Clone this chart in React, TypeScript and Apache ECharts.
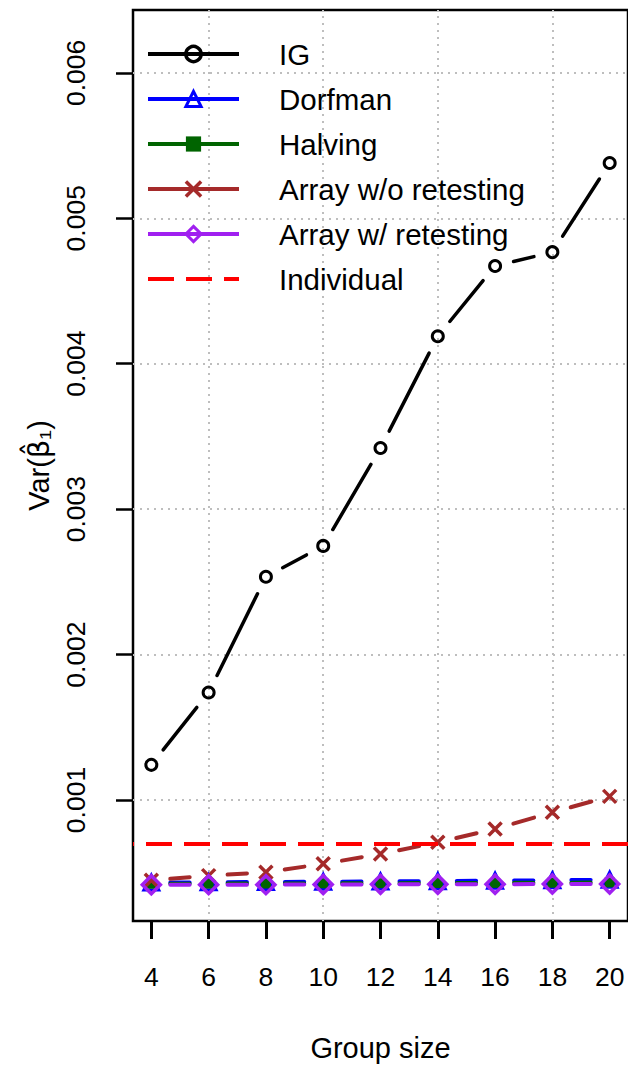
import React, { useEffect, useRef } from "react";
import * as echarts from "echarts";

const groupSizes = [4, 6, 8, 10, 12, 14, 16, 18, 20];
const igValues = [0.001242, 0.001739, 0.002535, 0.002747, 0.00342, 0.004189, 0.004672, 0.004767, 0.00538];
const dorfmanValues = [0.000432, 0.000434, 0.000436, 0.000438, 0.00044, 0.000442, 0.000445, 0.000448, 0.000452];
const halvingValues = [0.000424, 0.000425, 0.000426, 0.000427, 0.000428, 0.000429, 0.00043, 0.000431, 0.000433];
const arrayWoValues = [0.000448, 0.00048, 0.000503, 0.000561, 0.000629, 0.000709, 0.000801, 0.000915, 0.001025];
const arrayWValues = [0.000417, 0.000418, 0.000418, 0.000419, 0.00042, 0.00042, 0.000421, 0.000422, 0.000423];
const individualValue = 0.0007;

const xTicks = [4, 6, 8, 10, 12, 14, 16, 18, 20];
const xGridValues = [6, 10, 14, 18];
const yTicks = [0.001, 0.002, 0.003, 0.004, 0.005, 0.006];
const xRange = [3.36, 20.64];
const yRange = [0.000168, 0.006432];

const FONT = "'Liberation Sans', Arial, sans-serif";
const GAP = 19;

function gappedSegments(values: number[], color: string, width: number, z: number) {
  const data: number[][] = [];
  for (let i = 0; i < groupSizes.length - 1; i++) {
    data.push([groupSizes[i], values[i], groupSizes[i + 1], values[i + 1]]);
  }
  return {
    type: "custom",
    silent: true,
    z,
    data,
    encode: { x: [0, 2], y: [1, 3] },
    renderItem: (_params: any, api: any) => {
      const p1 = api.coord([api.value(0), api.value(1)]);
      const p2 = api.coord([api.value(2), api.value(3)]);
      const dx = p2[0] - p1[0];
      const dy = p2[1] - p1[1];
      const len = Math.hypot(dx, dy);
      if (len <= 2 * GAP) return { type: "group", children: [] };
      const ux = dx / len;
      const uy = dy / len;
      return {
        type: "line",
        shape: {
          x1: p1[0] + ux * GAP,
          y1: p1[1] + uy * GAP,
          x2: p2[0] - ux * GAP,
          y2: p2[1] - uy * GAP,
        },
        style: { stroke: color, lineWidth: width, lineCap: "round" },
      };
    },
  };
}

function markerSeries(
  name: string,
  values: number[],
  color: string,
  symbol: string,
  size: number,
  filled: boolean,
  border: number,
  z: number,
  extra: any = {}
) {
  return {
    name,
    type: "line",
    z,
    data: groupSizes.map((x, i) => [x, values[i]]),
    symbol,
    symbolSize: size,
    showSymbol: true,
    itemStyle: filled
      ? { color, borderWidth: 0 }
      : { color: "rgba(0,0,0,0)", borderColor: color, borderWidth: border },
    lineStyle: { width: 0, color },
    ...extra,
  };
}

const CROSS = "path://M0,0L10,10M10,0L0,10";

const hLine = (v: number) => [{ coord: [xRange[0], v] }, { coord: [xRange[1], v] }];
const hLineRev = (v: number) => [{ coord: [xRange[1], v] }, { coord: [xRange[0], v] }];
const vLine = (v: number) => [{ coord: [v, yRange[0]] }, { coord: [v, yRange[1]] }];

export default function App() {
  const ref = useRef<HTMLDivElement>(null);
  useEffect(() => {
    document.body.style.margin = "0";
    const chart = echarts.init(ref.current!, undefined, { renderer: "svg" });
    const legendItem = (name: string, color: string, border: number, extra: any = {}) => ({
      name,
      lineStyle: { width: 4, color, ...(extra.lineStyle || {}) },
      itemStyle: { borderWidth: border, ...(extra.itemStyle || {}) },
    });
    chart.setOption({
      animation: false,
      grid: {
        left: 133,
        right: -3,
        top: 10,
        bottom: 145,
        show: true,
        borderColor: "#000",
        borderWidth: 2.5,
        backgroundColor: "transparent",
      },
      legend: {
        orient: "vertical",
        left: 146,
        top: 39,
        padding: 0,
        itemWidth: 91,
        itemHeight: 19,
        itemGap: 15,
        selectedMode: false,
        textStyle: { fontSize: 29.5, color: "#000", fontFamily: FONT, padding: [0, 0, 0, 35] },
        data: [
          legendItem("IG", "#000000", 3.5),
          legendItem("Dorfman", "#0000FF", 3),
          legendItem("Halving", "#006400", 0),
          legendItem("Array w/o retesting", "#A52A2A", 3.5),
          legendItem("Array w/ retesting", "#A020F0", 3),
          legendItem("Individual", "#FF0000", 0, {
            lineStyle: { type: [26, 12] },
            itemStyle: { opacity: 0 },
          }),
        ],
      },
      xAxis: {
        type: "value",
        min: xRange[0],
        max: xRange[1],
        name: "Group size",
        nameLocation: "middle",
        nameGap: 112,
        nameTextStyle: { fontSize: 29, color: "#000", fontFamily: FONT },
        axisLine: { show: false },
        splitLine: { show: false },
        axisTick: {
          show: true,
          length: 18,
          lineStyle: { color: "#000", width: 3 },
          customValues: xTicks,
        },
        axisLabel: {
          customValues: xTicks,
          margin: 42,
          fontSize: 26.5,
          color: "#000",
          fontFamily: FONT,
        },
      },
      yAxis: {
        type: "value",
        min: yRange[0],
        max: yRange[1],
        name: "Var({b|\u03B2\u0302}\u2081)",
        nameLocation: "middle",
        nameRotate: 90,
        nameGap: 80,
        nameTextStyle: {
          fontSize: 29,
          color: "#000",
          fontFamily: FONT,
          rich: { b: { fontSize: 29, fontFamily: "'DejaVu Sans', sans-serif", color: "#000" } },
        },
        axisLine: { show: false },
        splitLine: { show: false },
        axisTick: {
          show: true,
          length: 17,
          lineStyle: { color: "#000", width: 2.5 },
          customValues: yTicks,
        },
        axisLabel: {
          customValues: yTicks,
          rotate: 90,
          margin: 44,
          fontSize: 26.5,
          color: "#000",
          fontFamily: FONT,
          formatter: (v: number) => v.toFixed(3),
        },
      },
      series: [
        gappedSegments(igValues, "#000000", 3.5, 3),
        gappedSegments(dorfmanValues, "#0000FF", 4, 3),
        gappedSegments(halvingValues, "#006400", 4, 3),
        gappedSegments(arrayWoValues, "#A52A2A", 4, 3),
        gappedSegments(arrayWValues, "#A020F0", 4, 3),
        markerSeries("IG", igValues, "#000000", "circle", 11, false, 3, 5, {
          markLine: {
            silent: true,
            z: 1,
            symbol: ["none", "none"],
            label: { show: false },
            lineStyle: { color: "#BEBEBE", type: [2, 5], width: 2 },
            data: [...yTicks.map(hLine), ...xGridValues.map(vLine)],
          },
        }),
        markerSeries("Dorfman", dorfmanValues, "#0000FF", "triangle", 15, false, 3, 5),
        markerSeries("Halving", halvingValues, "#006400", "rect", 10, true, 0, 6),
        markerSeries("Array w/o retesting", arrayWoValues, "#A52A2A", CROSS, 13, false, 3.5, 6),
        markerSeries("Array w/ retesting", arrayWValues, "#A020F0", "diamond", 18, false, 3.5, 7),
        {
          name: "Individual",
          type: "line",
          data: groupSizes.map((x) => [x, individualValue]),
          symbol: "none",
          z: 8,
          lineStyle: { color: "#FF0000", width: 0, type: [26, 12] },
          itemStyle: { color: "#FF0000" },
          markLine: {
            silent: true,
            z: 8,
            symbol: ["none", "none"],
            label: { show: false },
            lineStyle: { color: "#FF0000", type: [26, 12], width: 4 },
            data: [hLineRev(individualValue)],
          },
        },
      ],
    });
    return () => chart.dispose();
  }, []);
  return <div ref={ref} style={{ width: 628, height: 1067 }} />;
}
